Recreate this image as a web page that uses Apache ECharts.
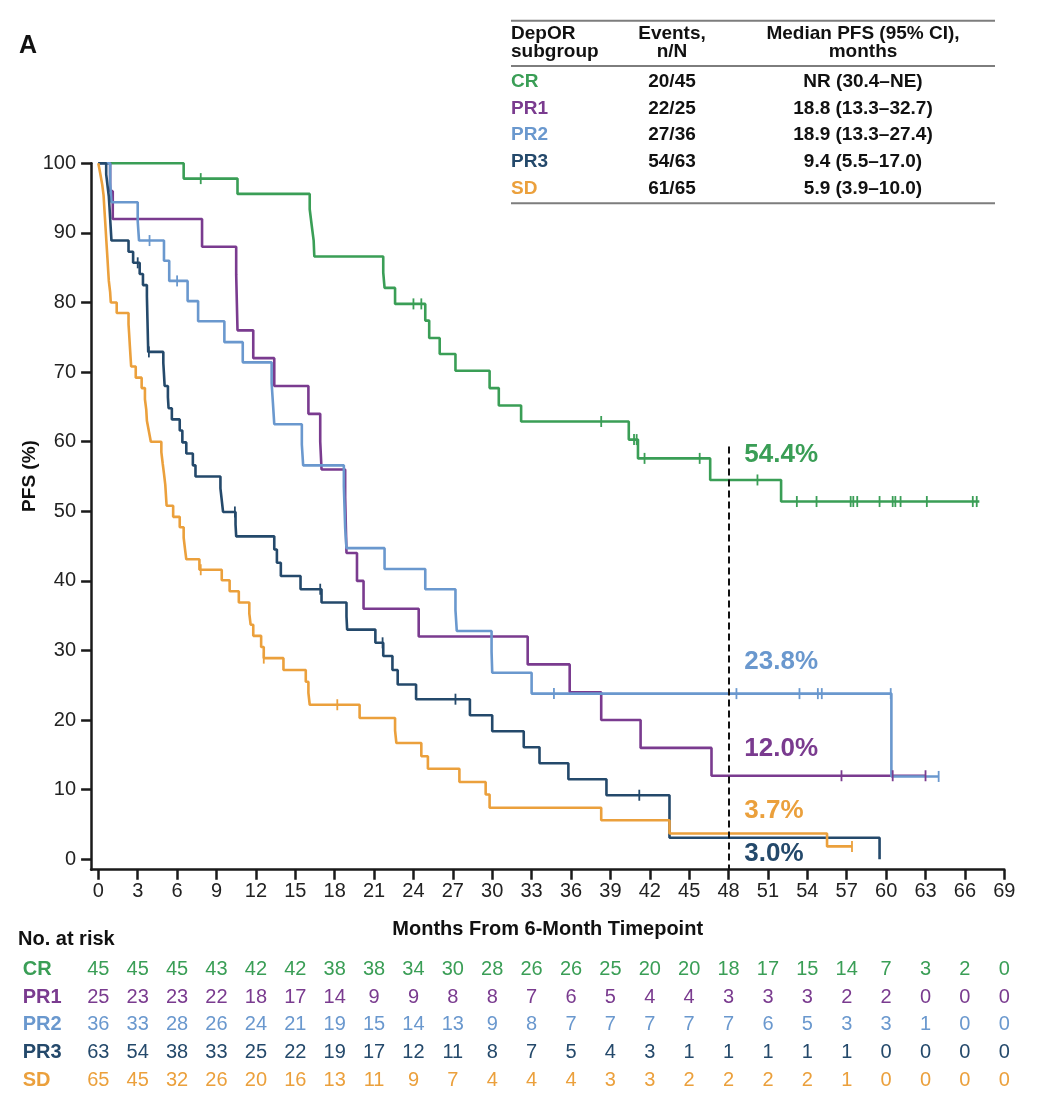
<!DOCTYPE html>
<html><head><meta charset="utf-8">
<script src="https://cdn.jsdelivr.net/npm/echarts@6/dist/echarts.min.js"></script>
<style>html,body{margin:0;padding:0;background:#fff}#c{width:1046px;height:1114px}</style>
</head><body><div id="c"></div>
<script>
const groups = ['CR','PR1','PR2','PR3','SD'];
const groupColors = ['#3A9E56','#7A3B8F','#6A98CE','#24496B','#EBA03C'];
const xTicks = [0,3,6,9,12,15,18,21,24,27,30,33,36,39,42,45,48,51,54,57,60,63,66,69];
const yTicks = [0,10,20,30,40,50,60,70,80,90,100];

// Kaplan-Meier steps: [month, PFS %] (value after the event at that month)
const kmCR = [[0,100],[6.5,97.8],[10.6,95.6],[16.1,93.4],[16.25,91.1],[16.4,88.9],[16.45,86.6],[21.7,84.3],[21.8,82.1],[22.6,79.8],[24.9,77.4],[25.2,74.9],[26.0,72.6],[27.2,70.2],[29.8,67.7],[30.5,65.2],[32.2,62.9],[40.4,60.3],[41.1,57.6],[46.6,54.5],[52.0,51.4],[67.1,51.4]];
const kmPR1 = [[0,100],[0.9,96],[1.1,92],[7.9,88],[10.5,84],[10.55,80],[10.6,76],[11.8,72],[13.4,68],[16.0,64],[16.9,60],[17.0,56],[18.8,52],[18.85,48],[18.9,44],[19.7,40],[20.2,36],[24.4,32],[32.7,28],[35.9,24],[38.3,20],[41.3,16],[46.7,12],[63.0,12]];
const kmPR2 = [[0,100],[0.9,97.2],[1.0,94.4],[3.0,91.7],[3.1,88.9],[5.0,86.0],[5.4,83.1],[6.8,80.2],[7.6,77.3],[9.6,74.3],[11.0,71.4],[13.2,68.4],[13.3,65.5],[13.4,62.5],[15.5,59.6],[15.6,56.6],[18.7,53.6],[18.75,50.6],[18.8,47.6],[18.9,44.7],[21.8,41.7],[24.9,38.8],[27.2,35.8],[27.3,32.8],[29.95,29.8],[30.0,26.8],[33.0,23.8],[60.4,11.9],[64.0,11.9]];
const kmPR3 = [[0,100],[0.6,98.4],[0.7,96.8],[0.8,95.2],[0.85,93.7],[0.9,92.1],[0.95,90.5],[1.0,88.9],[2.3,87.3],[2.65,85.7],[3.15,84.1],[3.4,82.5],[3.7,80.9],[3.72,79.3],[3.74,77.7],[3.76,76.1],[3.78,74.5],[3.8,72.9],[4.95,71.3],[5.0,69.7],[5.05,68.0],[5.3,66.4],[5.35,64.8],[5.6,63.2],[6.2,61.6],[6.4,59.9],[6.7,58.3],[7.2,56.6],[7.4,55.0],[9.3,53.3],[9.4,51.6],[9.5,49.9],[10.45,48.1],[10.5,46.4],[13.4,44.5],[13.6,42.6],[13.9,40.7],[15.4,38.8],[17.0,36.9],[18.9,34.9],[18.95,33.0],[21.1,31.1],[21.7,29.2],[22.4,27.2],[22.8,25.1],[24.2,23.0],[28.3,20.7],[30.0,18.4],[32.4,16.1],[33.6,13.8],[35.8,11.5],[38.7,9.2],[43.5,3.1],[59.5,0]];
const kmSD = [[0,100],[0.15,98.5],[0.3,96.9],[0.4,95.4],[0.45,93.8],[0.5,92.3],[0.55,90.8],[0.6,89.2],[0.65,87.7],[0.7,86.2],[0.75,84.6],[0.8,83.1],[0.9,81.5],[0.95,80.0],[1.4,78.5],[2.3,76.9],[2.35,75.4],[2.4,73.8],[2.45,72.3],[2.5,70.8],[2.85,69.2],[3.3,67.7],[3.55,66.1],[3.65,64.6],[3.7,63.0],[3.85,61.5],[4.0,60.0],[4.8,58.5],[4.9,56.9],[5.0,55.4],[5.1,53.8],[5.15,52.3],[5.2,50.8],[5.7,49.2],[6.2,47.7],[6.5,46.2],[6.6,44.6],[6.7,43.1],[7.7,41.6],[9.4,40.1],[10.0,38.5],[10.7,36.9],[11.5,35.3],[11.6,33.7],[11.8,32.1],[12.4,30.5],[12.6,28.9],[14.1,27.2],[15.8,25.5],[16.0,23.9],[16.1,22.2],[19.9,20.3],[22.6,18.5],[22.7,16.7],[24.6,14.8],[25.1,13.0],[27.5,11.1],[29.5,9.3],[29.8,7.4],[38.3,5.6],[43.5,3.7],[55.5,1.85],[57.4,1.85]];

// Censoring times (months)
const censorCR = [7.8,24.0,24.6,38.3,40.8,41.0,41.6,45.8,50.2,53.2,54.7,57.3,57.5,57.8,59.5,60.5,60.7,61.1,63.1,66.6,66.9];
const censorPR1 = [56.6,60.5,63.0];
const censorPR2 = [3.9,6.0,34.7,48.6,53.4,54.8,55.1,60.35,64.0];
const censorPR3 = [3.0,3.85,10.4,16.9,21.65,27.2,41.2];
const censorSD = [7.8,12.6,18.2,57.4];

// Number at risk at each x tick
const riskCR  = [45,45,45,43,42,42,38,38,34,30,28,26,26,25,20,20,18,17,15,14,7,3,2,0];
const riskPR1 = [25,23,23,22,18,17,14,9,9,8,8,7,6,5,4,4,3,3,3,2,2,0,0,0];
const riskPR2 = [36,33,28,26,24,21,19,15,14,13,9,8,7,7,7,7,7,6,5,3,3,1,0,0];
const riskPR3 = [63,54,38,33,25,22,19,17,12,11,8,7,5,4,3,1,1,1,1,1,0,0,0,0];
const riskSD  = [65,45,32,26,20,16,13,11,9,7,4,4,4,3,3,2,2,2,2,1,0,0,0,0];

// Summary table
const tableEvents = ['20/45','22/25','27/36','54/63','61/65'];
const tableMedian = ['NR (30.4–NE)','18.8 (13.3–32.7)','18.9 (13.3–27.4)','9.4 (5.5–17.0)','5.9 (3.9–10.0)'];

// Landmark annotation
const landmarkMonth = 48;
const landmarkLabels = ['54.4%','12.0%','23.8%','3.0%','3.7%'];
const landmarkLabelPos = [58.1,15.8,28.3,0.8,7.0];

const kms = [kmCR,kmPR1,kmPR2,kmPR3,kmSD];
const censors = [censorCR,censorPR1,censorPR2,censorPR3,censorSD];
const risks = [riskCR,riskPR1,riskPR2,riskPR3,riskSD];

function stepValueAt(km,t){let v=km[0][1];for(const p of km){if(p[0]<=t)v=p[1];else break;}return v;}

const FONT = '"Liberation Sans", Arial, Helvetica, sans-serif';
const series = [];
[0,1,2,3,4].forEach(gi=>{
  const s = {
    type:'line', name:groups[gi], xAxisIndex:0, yAxisIndex:0,
    step:'end', data:kms[gi], showSymbol:false, symbol:'none',
    lineStyle:{color:groupColors[gi], width:2.6}, itemStyle:{color:groupColors[gi]},
    z:3, animation:false,
    markPoint:{symbol:'circle', symbolSize:0, silent:true, animation:false,
      data:[{coord:[49.2, landmarkLabelPos[gi]]}],
      label:{show:true, position:'right', distance:0, formatter:landmarkLabels[gi],
        fontFamily:FONT, fontSize:26, fontWeight:'bold', color:groupColors[gi]}}
  };
  if(gi===0){
    s.markLine = {symbol:['none','none'], silent:true, animation:false,
      label:{show:false},
      lineStyle:{type:[7,4], color:'#111', width:2},
      data:[[{coord:[landmarkMonth,59.3]},{coord:[landmarkMonth,-1.5]}]]};
  }
  series.push(s);
});
[0,1,2,3,4].forEach(gi=>{
  series.push({type:'scatter', xAxisIndex:0, yAxisIndex:0, animation:false,
    symbol:'rect', symbolSize:[1.8,11], z:4,
    itemStyle:{color:groupColors[gi], opacity:1},
    data:censors[gi].map(t=>[t, stepValueAt(kms[gi],t)])});
});
[0,1,2,3,4].forEach(gi=>{
  series.push({type:'scatter', xAxisIndex:1, yAxisIndex:1, animation:false,
    symbolSize:0, itemStyle:{color:groupColors[gi], opacity:1},
    data:risks[gi].map((n,i)=>[xTicks[i], gi, n]),
    label:{show:true, position:'inside', formatter:p=>String(p.value[2]),
      fontFamily:FONT, fontSize:20, color:groupColors[gi], opacity:1}});
});

const tableX = {left:511, right:995, c1:672, c2:863};
const rowY = [82,108.6,135.2,161.8,188.4];
const graphics = [
  {type:'text', left:19, top:34, style:{text:'A', font:'bold 25px '+FONT, fill:'#111'}},
  {type:'text', x:30, y:476, rotation:Math.PI/2, style:{text:'PFS (%)', font:'bold 19px '+FONT, fill:'#111', align:'center', verticalAlign:'middle'}},
  {type:'text', left:18, top:929, style:{text:'No. at risk', font:'bold 20px '+FONT, fill:'#111'}},
  {type:'line', shape:{x1:tableX.left,y1:20.7,x2:tableX.right,y2:20.7}, style:{stroke:'#7d7d7d', lineWidth:2}},
  {type:'line', shape:{x1:tableX.left,y1:66,x2:tableX.right,y2:66}, style:{stroke:'#7d7d7d', lineWidth:2}},
  {type:'line', shape:{x1:tableX.left,y1:203.3,x2:tableX.right,y2:203.3}, style:{stroke:'#7d7d7d', lineWidth:2}},
  {type:'text', x:tableX.left, y:33.5, style:{text:'DepOR', font:'bold 19px '+FONT, fill:'#111', align:'left', verticalAlign:'middle'}},
  {type:'text', x:tableX.left, y:52, style:{text:'subgroup', font:'bold 19px '+FONT, fill:'#111', align:'left', verticalAlign:'middle'}},
  {type:'text', x:tableX.c1, y:33.5, style:{text:'Events,', font:'bold 19px '+FONT, fill:'#111', align:'center', verticalAlign:'middle'}},
  {type:'text', x:tableX.c1, y:52, style:{text:'n/N', font:'bold 19px '+FONT, fill:'#111', align:'center', verticalAlign:'middle'}},
  {type:'text', x:tableX.c2, y:33.5, style:{text:'Median PFS (95% CI),', font:'bold 19px '+FONT, fill:'#111', align:'center', verticalAlign:'middle'}},
  {type:'text', x:tableX.c2, y:52, style:{text:'months', font:'bold 19px '+FONT, fill:'#111', align:'center', verticalAlign:'middle'}}
];
groups.forEach((g,i)=>{
  graphics.push({type:'text', x:tableX.left, y:rowY[i], style:{text:g, font:'bold 19px '+FONT, fill:groupColors[i], align:'left', verticalAlign:'middle'}});
  graphics.push({type:'text', x:tableX.c1, y:rowY[i], style:{text:tableEvents[i], font:'bold 19px '+FONT, fill:'#111', align:'center', verticalAlign:'middle'}});
  graphics.push({type:'text', x:tableX.c2, y:rowY[i], style:{text:tableMedian[i], font:'bold 19px '+FONT, fill:'#111', align:'center', verticalAlign:'middle'}});
});

const axisCol = '#1a1a1a';
const option = {
  animation:false,
  backgroundColor:'#fff',
  textStyle:{fontFamily:FONT},
  grid:[
    {left:91.1, right:41.7, top:163.3, bottom:244.3},
    {left:91.1, right:41.7, top:955.6, height:138.75}
  ],
  xAxis:[
    {type:'value', gridIndex:0, min:-0.55, max:69,
      axisLine:{show:true, onZero:false, lineStyle:{color:axisCol, width:2.5}},
      axisTick:{show:true, customValues:xTicks, length:10, lineStyle:{color:axisCol, width:2.5}},
      axisLabel:{customValues:xTicks, fontSize:20, color:'#222', margin:12, fontFamily:FONT},
      splitLine:{show:false},
      name:'Months From 6-Month Timepoint', nameLocation:'middle', nameGap:50,
      nameTextStyle:{fontSize:20, fontWeight:'bold', color:'#111', fontFamily:FONT}},
    {type:'value', gridIndex:1, min:-0.55, max:69, show:false}
  ],
  yAxis:[
    {type:'value', gridIndex:0, min:-1.5, max:100,
      axisLine:{show:true, onZero:false, lineStyle:{color:axisCol, width:2.5}},
      axisTick:{show:true, customValues:yTicks, length:10, lineStyle:{color:axisCol, width:2.5}},
      axisLabel:{customValues:yTicks, fontSize:20, color:'#222', margin:15, fontFamily:FONT},
      splitLine:{show:false}},
    {type:'category', gridIndex:1, data:groups, inverse:true,
      axisLine:{show:false}, axisTick:{show:false}, splitLine:{show:false},
      axisLabel:{align:'left', margin:68.4, fontSize:20, fontWeight:'bold', fontFamily:FONT,
        color:(v,i)=>groupColors[groups.indexOf(v)]}}
  ],
  series:series,
  graphic:graphics
};
const chart = echarts.init(document.getElementById('c'), null, {renderer:'canvas'});
chart.setOption(option);
</script></body></html>
